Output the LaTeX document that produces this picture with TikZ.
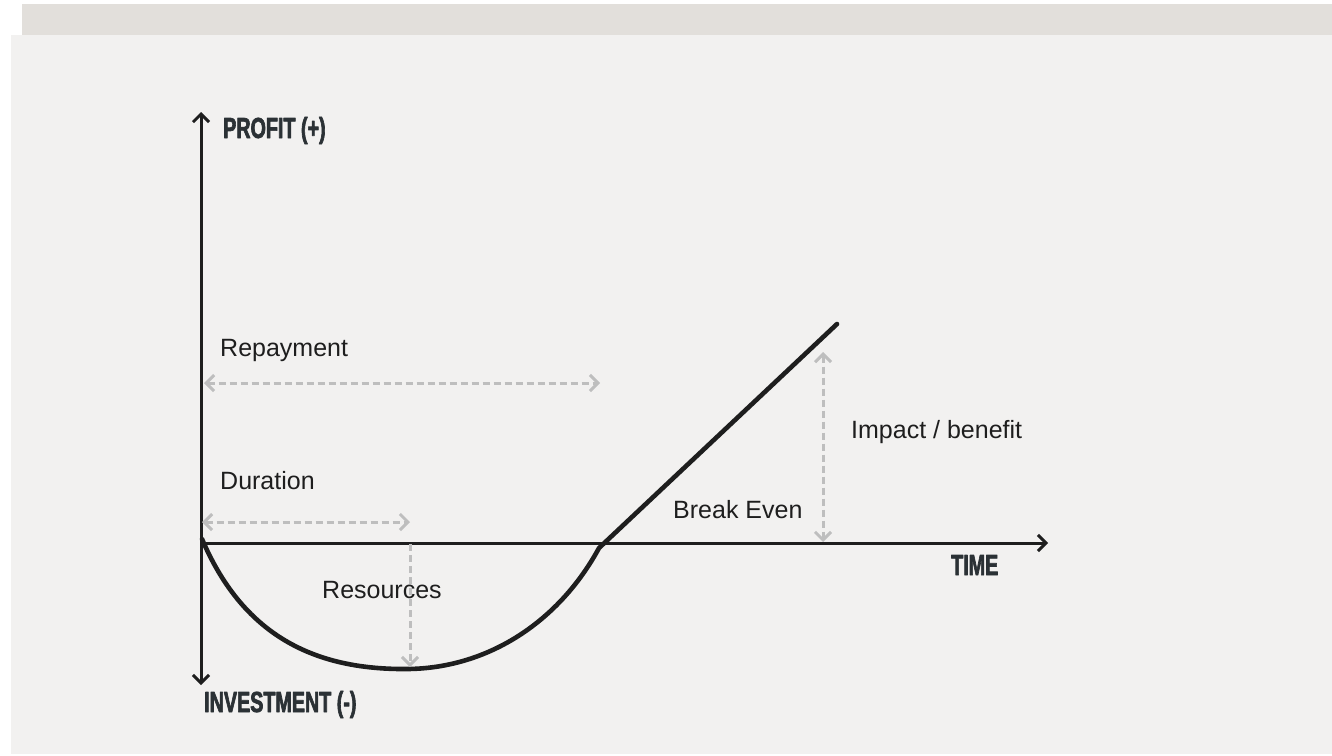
\documentclass[tikz,border=0pt]{standalone}
\usepackage{fontspec}
\setmainfont{Liberation Sans}
\newfontfamily\headfont[FakeStretch=0.68,BoldFeatures={FakeBold=2.2}]{Liberation Sans}
\usepackage{tikz}
\usetikzlibrary{arrows.meta}

\definecolor{panelgray}{HTML}{F2F1F0}
\definecolor{bargray}{HTML}{E2DFDB}
\definecolor{inkdark}{HTML}{1E1E1E}
\definecolor{headink}{HTML}{2B3135}
\definecolor{guidegray}{HTML}{BEBEBE}

\begin{document}
\begin{tikzpicture}[x=1pt,y=-1pt,>={Straight Barb[length=8pt,width=16pt]},
                    line join=round]

  \tikzstyle{axis}  = [draw=inkdark, line width=3pt]
  \tikzstyle{curve} = [draw=inkdark, line width=4.6pt, line cap=round]
  \tikzstyle{guide} = [draw=guidegray, line width=3pt, dash pattern=on 7pt off 4pt]
  \tikzstyle{lbl}   = [anchor=base west, inner sep=0pt, text=inkdark,
                       font=\fontsize{25}{30}\selectfont]
  \tikzstyle{head}  = [anchor=base west, inner sep=0pt, text=headink,
                       font=\headfont\bfseries\fontsize{29}{34}\selectfont]

  \useasboundingbox (0,0) rectangle (1332,755);
  \fill[white] (0,0) rectangle (1332,755);
  \fill[bargray] (22,4) rectangle (1332,35);
  \fill[panelgray] (11,35) rectangle (1332,754);

  % axes
  \coordinate (O)    at (201,543);
  \coordinate (top)  at (201,112);
  \coordinate (bot)  at (201,685);
  \coordinate (tend) at (1048,543);
  \draw[axis,<->] (top) -- (bot);
  \draw[axis,->]  (O) -- (tend);

  % investment curve and payback line
  \coordinate (start) at (202,539);
  \coordinate (low)   at (408,669);
  \coordinate (kink)  at (599,548);
  \coordinate (peak)  at (837,324);
  \draw[curve] (start) .. controls (245,640) and (320,670) .. (low)
                       .. controls (490,668) and (560,620) .. (kink)
                       -- (peak);

  % guides
  \coordinate (rep1) at (204,383);
  \coordinate (rep2) at (600,383);
  \coordinate (dur1) at (202,522);
  \coordinate (dur2) at (410,522);
  \coordinate (res1) at (410,544);
  \coordinate (res2) at (410,667);
  \coordinate (imp1) at (823,352);
  \coordinate (imp2) at (823,542);
  \draw[guide,<->] (rep1) -- (rep2);
  \draw[guide,<->] (dur1) -- (dur2);
  \draw[guide,->]  (res1) -- (res2);
  \draw[guide,<->] (imp1) -- (imp2);

  % labels
  \node[head] (profit)  at (223,138) {PROFIT (+)};
  \node[head] (invest)  at (204,712) {INVESTMENT (-)};
  \node[head] (time)    at (951,575) {TIME};
  \node[lbl]  (repay)   at (220,356) {Repayment};
  \node[lbl]  (dura)    at (220,489) {Duration};
  \node[lbl]  (resrc)   at (322,598) {Resources};
  \node[lbl]  (breakev) at (673,518) {Break Even};
  \node[lbl]  (impact)  at (851,438) {Impact / benefit};

\end{tikzpicture}
\end{document}
